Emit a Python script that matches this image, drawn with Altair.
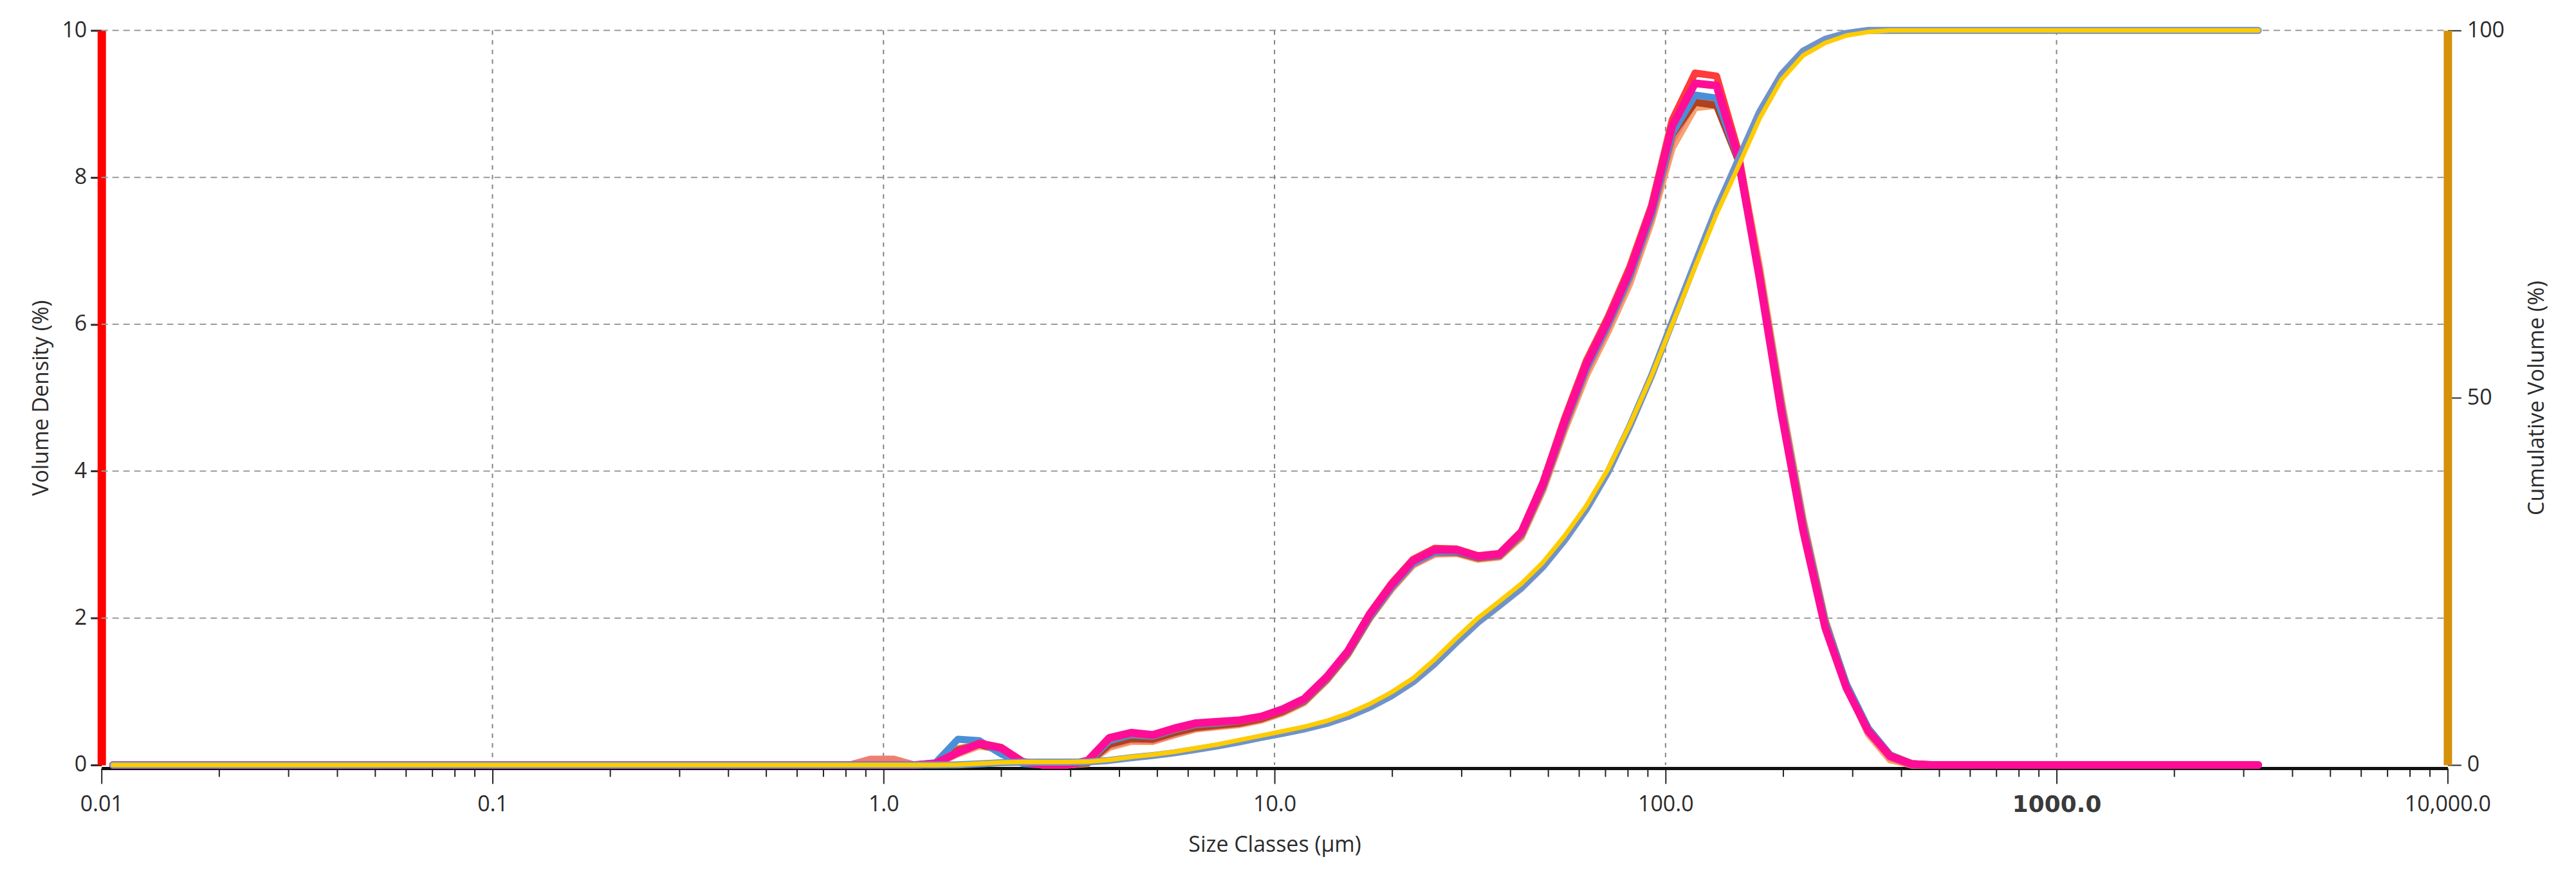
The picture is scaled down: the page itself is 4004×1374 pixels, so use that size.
import json
import altair as alt
import pandas as pd

# ---------------- data ----------------
sizes = [
    0.0107, 0.0121, 0.0138, 0.0157, 0.0178, 0.0202, 0.0229, 0.0261, 0.0296, 0.0336,
    0.0382, 0.0434, 0.0493, 0.0560, 0.0637, 0.0723, 0.0822, 0.0933, 0.106, 0.120,
    0.137, 0.156, 0.177, 0.201, 0.228, 0.259, 0.294, 0.335, 0.380, 0.432,
    0.490, 0.557, 0.633, 0.720, 0.818, 0.929, 1.06, 1.20, 1.36, 1.55,
    1.76, 2.00, 2.27, 2.58, 2.93, 3.33, 3.78, 4.30, 4.88, 5.55,
    6.30, 7.16, 8.14, 9.25, 10.5, 11.9, 13.6, 15.4, 17.5, 19.9,
    22.6, 25.7, 29.2, 33.1, 37.6, 42.8, 48.6, 55.2, 62.7, 71.3,
    81.0, 92.1, 104, 119, 135, 153, 174, 198, 225, 256,
    290, 330, 375, 426, 484, 550, 625, 710, 806, 916,
    1040, 1180, 1340, 1530, 1740, 1970, 2240, 2550, 2890, 3280,
]

dens_peach = [
    0, 0, 0, 0, 0, 0, 0, 0, 0, 0,
    0, 0, 0, 0, 0, 0, 0, 0, 0, 0,
    0, 0, 0, 0, 0, 0, 0, 0, 0, 0,
    0, 0, 0, 0, 0, 0, 0, 0, 0.01, 0.15,
    0.26, 0.21, 0.04, 0, 0, 0.02, 0.24, 0.32, 0.32, 0.41,
    0.49, 0.52, 0.55, 0.61, 0.71, 0.85, 1.15, 1.50, 1.99, 2.39,
    2.72, 2.87, 2.88, 2.80, 2.83, 3.10, 3.74, 4.56, 5.30, 5.90,
    6.55, 7.40, 8.40, 8.95, 8.98, 8.36, 6.78, 4.96, 3.34, 1.98,
    1.08, 0.42, 0.07, 0, 0, 0, 0, 0, 0, 0,
    0, 0, 0, 0, 0, 0, 0, 0, 0, 0,
]
dens_salmon = [
    0, 0, 0, 0, 0, 0, 0, 0, 0, 0,
    0, 0, 0, 0, 0, 0, 0, 0, 0, 0,
    0, 0, 0, 0, 0, 0, 0, 0, 0, 0,
    0, 0, 0, 0, 0, 0.08, 0.08, 0, 0.02, 0.22,
    0.28, 0.22, 0.04, 0, 0, 0.03, 0.26, 0.34, 0.33, 0.42,
    0.50, 0.53, 0.56, 0.62, 0.72, 0.86, 1.16, 1.51, 2.00, 2.40,
    2.73, 2.88, 2.89, 2.81, 2.84, 3.12, 3.77, 4.60, 5.36, 5.96,
    6.62, 7.46, 8.50, 9.05, 9.02, 8.32, 6.72, 4.90, 3.30, 1.96,
    1.10, 0.47, 0.10, 0, 0, 0, 0, 0, 0, 0,
    0, 0, 0, 0, 0, 0, 0, 0, 0, 0,
]
dens_brown = [
    0, 0, 0, 0, 0, 0, 0, 0, 0, 0,
    0, 0, 0, 0, 0, 0, 0, 0, 0, 0,
    0, 0, 0, 0, 0, 0, 0, 0, 0, 0,
    0, 0, 0, 0, 0, 0, 0, 0, 0.02, 0.20,
    0.28, 0.20, 0.03, 0, 0, 0.03, 0.28, 0.36, 0.35, 0.44,
    0.51, 0.54, 0.57, 0.63, 0.73, 0.87, 1.17, 1.52, 2.01, 2.42,
    2.75, 2.90, 2.90, 2.82, 2.85, 3.14, 3.79, 4.63, 5.40, 6.00,
    6.66, 7.50, 8.58, 9.02, 8.98, 8.25, 6.68, 4.86, 3.26, 1.94,
    1.10, 0.49, 0.12, 0.01, 0, 0, 0, 0, 0, 0,
    0, 0, 0, 0, 0, 0, 0, 0, 0, 0,
]
dens_blue = [
    0, 0, 0, 0, 0, 0, 0, 0, 0, 0,
    0, 0, 0, 0, 0, 0, 0, 0, 0, 0,
    0, 0, 0, 0, 0, 0, 0, 0, 0, 0,
    0, 0, 0, 0, 0, 0, 0, 0, 0.03, 0.35,
    0.33, 0.15, 0.02, 0, 0, 0.04, 0.33, 0.41, 0.39, 0.48,
    0.55, 0.57, 0.60, 0.65, 0.75, 0.88, 1.18, 1.53, 2.02, 2.42,
    2.75, 2.90, 2.91, 2.83, 2.86, 3.15, 3.80, 4.64, 5.40, 6.00,
    6.66, 7.50, 8.60, 9.12, 9.08, 8.28, 6.66, 4.85, 3.25, 1.93,
    1.10, 0.50, 0.14, 0.02, 0, 0, 0, 0, 0, 0,
    0, 0, 0, 0, 0, 0, 0, 0, 0, 0,
]
dens_red = [
    0, 0, 0, 0, 0, 0, 0, 0, 0, 0,
    0, 0, 0, 0, 0, 0, 0, 0, 0, 0,
    0, 0, 0, 0, 0, 0, 0, 0, 0, 0,
    0, 0, 0, 0, 0, 0, 0, 0, 0.02, 0.18,
    0.30, 0.24, 0.05, 0, 0, 0.05, 0.36, 0.43, 0.40, 0.49,
    0.56, 0.58, 0.60, 0.65, 0.75, 0.89, 1.19, 1.55, 2.06, 2.47,
    2.80, 2.95, 2.94, 2.85, 2.88, 3.18, 3.85, 4.72, 5.50, 6.10,
    6.78, 7.62, 8.78, 9.42, 9.38, 8.38, 6.66, 4.80, 3.20, 1.88,
    1.05, 0.47, 0.13, 0.02, 0, 0, 0, 0, 0, 0,
    0, 0, 0, 0, 0, 0, 0, 0, 0, 0,
]
dens_magenta = [
    0, 0, 0, 0, 0, 0, 0, 0, 0, 0,
    0, 0, 0, 0, 0, 0, 0, 0, 0, 0,
    0, 0, 0, 0, 0, 0, 0, 0, 0, 0,
    0, 0, 0, 0, 0, 0, 0, 0, 0.02, 0.17,
    0.29, 0.23, 0.04, 0, 0, 0.06, 0.37, 0.44, 0.41, 0.50,
    0.57, 0.59, 0.61, 0.66, 0.76, 0.90, 1.20, 1.55, 2.05, 2.45,
    2.78, 2.93, 2.93, 2.84, 2.87, 3.17, 3.83, 4.68, 5.45, 6.05,
    6.72, 7.57, 8.70, 9.28, 9.25, 8.30, 6.62, 4.78, 3.18, 1.87,
    1.05, 0.46, 0.12, 0.01, 0, 0, 0, 0, 0, 0,
    0, 0, 0, 0, 0, 0, 0, 0, 0, 0,
]

cum_blue = [
    0, 0, 0, 0, 0, 0, 0, 0, 0, 0,
    0, 0, 0, 0, 0, 0, 0, 0, 0, 0,
    0, 0, 0, 0, 0, 0, 0, 0, 0, 0,
    0, 0, 0, 0, 0, 0, 0, 0, 0, 0.03,
    0.15, 0.30, 0.38, 0.40, 0.40, 0.42, 0.62, 0.98, 1.28, 1.65,
    2.12, 2.60, 3.15, 3.75, 4.30, 4.90, 5.65, 6.60, 7.85, 9.40,
    11.3, 13.8, 16.7, 19.4, 21.7, 24.1, 27.0, 30.6, 34.8, 39.9,
    46.1, 53.0, 60.3, 68.3, 75.7, 82.2, 88.9, 94.0, 97.2, 98.8,
    99.6, 100, 100, 100, 100, 100, 100, 100, 100, 100,
    100, 100, 100, 100, 100, 100, 100, 100, 100, 100,
]
cum_yellow = [
    0, 0, 0, 0, 0, 0, 0, 0, 0, 0,
    0, 0, 0, 0, 0, 0, 0, 0, 0, 0,
    0, 0, 0, 0, 0, 0, 0, 0, 0, 0,
    0, 0, 0, 0, 0, 0, 0, 0, 0, 0.05,
    0.20, 0.35, 0.42, 0.42, 0.42, 0.45, 0.70, 1.10, 1.40, 1.80,
    2.30, 2.80, 3.40, 4.00, 4.60, 5.20, 6.00, 7.00, 8.30, 9.90,
    11.8, 14.4, 17.3, 20.0, 22.3, 24.7, 27.6, 31.2, 35.3, 40.3,
    46.3, 53.0, 60.0, 67.8, 75.0, 81.3, 88.0, 93.3, 96.6, 98.3,
    99.3, 99.8, 100, 100, 100, 100, 100, 100, 100, 100,
    100, 100, 100, 100, 100, 100, 100, 100, 100, 100,
]

y_ticks_left = [0, 2, 4, 6, 8, 10]
y_ticks_right = [0, 50, 100]
y_grid = [2, 4, 6, 8, 10]
x_decades = [0.01, 0.1, 1, 10, 100, 1000, 10000]
x_tick_labels = ["0.01", "0.1", "1.0", "10.0", "100.0", "1000.0", "10,000.0"]
x_grid = [0.1, 1, 10, 100, 1000]
x_minor = [round(m * d, 6) for d in x_decades[:-1] for m in range(2, 10)]

density_series = [
    ("#F7A372", 11, dens_peach),
    ("#EE7F6E", 11, dens_salmon),
    ("#B0401E", 11, dens_brown),
    ("#4A90D8", 11, dens_blue),
    ("#FF3B3B", 11, dens_red),
    ("#FF0D96", 12, dens_magenta),
]
cumulative_series = [
    ("#6F93C9", 11, cum_blue),
    ("#FFCC00", 7, cum_yellow),
]

# ---------------- chart ----------------
W, H = 3654, 1144
FONT = "Open Sans"
TXT = "#2b2b2b"
FS = 34

xscale = alt.Scale(type="log", domain=[0.01, 10000], nice=False)
yl_scale = alt.Scale(domain=[0, 10], nice=False)
yr_scale = alt.Scale(domain=[0, 100], nice=False)

decade_test = "indexof(%s, datum.value) >= 0" % json.dumps(x_decades)
label_expr = " : ".join(
    f"datum.value == {d} ? '{l}'" for d, l in zip(x_decades, x_tick_labels)
) + " : ''"
is_1000 = "datum.value == 1000"

x_axis = alt.Axis(
    values=sorted(x_decades + x_minor),
    labelExpr=label_expr,
    title="Size Classes (µm)",
    grid=False,
    tickSize={"condition": {"test": decade_test, "value": 24}, "value": 13},
    tickColor="#222222",
    tickWidth=2,
    domainColor="#111111",
    domainWidth=5,
    offset=5,
    labelFont={"condition": {"test": is_1000, "value": "DejaVu Sans"}, "value": FONT},
    labelFontSize={"condition": {"test": is_1000, "value": 36}, "value": FS},
    labelFontWeight={"condition": {"test": is_1000, "value": "bold"}, "value": "normal"},
    labelColor={"condition": {"test": is_1000, "value": "#3a3a3a"}, "value": TXT},
    labelPadding=16,
    labelFlush=False,
    labelOverlap=False,
    titleFont=FONT,
    titleFontSize=FS,
    titleFontWeight="normal",
    titleColor=TXT,
    titlePadding=28,
)

yl_axis = alt.Axis(
    values=y_ticks_left,
    title="Volume Density (%)",
    grid=False,
    domainColor="#FF0000",
    domainWidth=13,
    tickColor="#2b2b2b",
    tickSize=17,
    tickWidth=3,
    labelFont=FONT,
    labelFontSize=FS,
    labelColor=TXT,
    labelPadding=6,
    titleFont=FONT,
    titleFontSize=FS,
    titleFontWeight="normal",
    titleColor=TXT,
    titlePadding=14,
)

yr_axis = alt.Axis(
    values=y_ticks_right,
    orient="right",
    title="Cumulative Volume (%)",
    grid=False,
    domainColor="#D4920A",
    domainWidth=13,
    tickColor="#2b2b2b",
    tickSize=21,
    tickWidth=2,
    labelFont=FONT,
    labelFontSize=FS,
    labelColor=TXT,
    labelPadding=9,
    titleFont=FONT,
    titleFontSize=FS,
    titleFontWeight="normal",
    titleColor=TXT,
    titleAngle=270,
    titleBaseline="top",
    titlePadding=34,
)

ygrid = alt.Chart(pd.DataFrame({"g": y_grid})).mark_rule(
    color="#9a9a9a", strokeWidth=2, strokeDash=[10, 7]
).encode(
    y=alt.Y("g:Q", scale=yl_scale, axis=yl_axis),
    x=alt.value(0),
    x2=alt.value(W),
)
xgrid = alt.Chart(pd.DataFrame({"d": x_grid})).mark_rule(
    color="#858585", strokeWidth=2, strokeDash=[7, 8]
).encode(
    x=alt.X("d:Q", scale=xscale, axis=x_axis),
    y=alt.value(0),
    y2=alt.value(H),
)

dens_layers = []
for color, sw, vals in density_series:
    df = pd.DataFrame({"size": sizes, "v": vals})
    dens_layers.append(
        alt.Chart(df).mark_line(color=color, strokeWidth=sw, strokeJoin="round", strokeCap="round").encode(
            x=alt.X("size:Q", scale=xscale, axis=x_axis),
            y=alt.Y("v:Q", scale=yl_scale, axis=yl_axis),
        )
    )

cum_layers = []
for color, sw, vals in cumulative_series:
    df = pd.DataFrame({"size": sizes, "c": vals})
    cum_layers.append(
        alt.Chart(df).mark_line(color=color, strokeWidth=sw, strokeJoin="round", strokeCap="round").encode(
            x=alt.X("size:Q", scale=xscale, axis=x_axis),
            y=alt.Y("c:Q", scale=yr_scale, axis=yr_axis),
        )
    )

left = alt.layer(ygrid, xgrid, *dens_layers)
right = alt.layer(*cum_layers)

chart = (
    alt.layer(left, right)
    .resolve_scale(y="independent")
    .properties(
        width=W,
        height=H,
        autosize=alt.AutoSizeParams(type="none"),
        padding={"left": 150, "top": 38, "right": 192, "bottom": 184},
        background="white",
    )
    .configure_view(stroke=None)
)

chart.save("out.html", embed_options={"renderer": "svg", "actions": False})
